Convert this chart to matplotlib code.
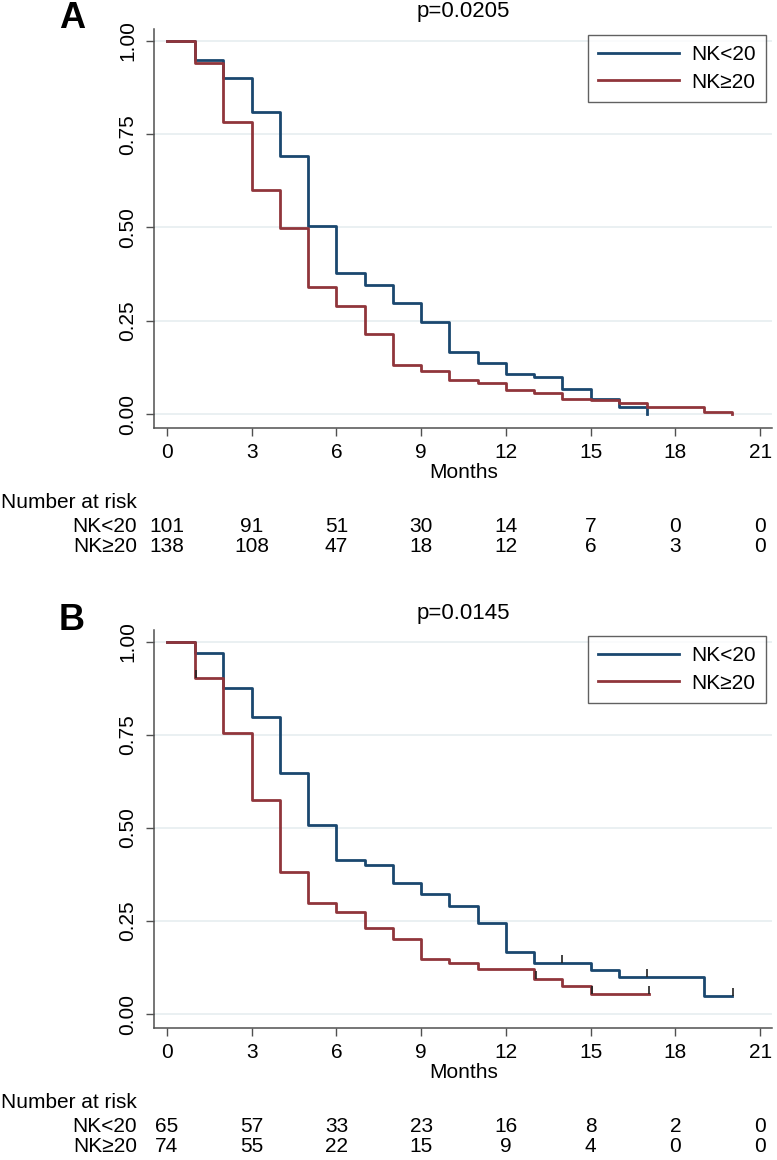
import matplotlib
matplotlib.use("Agg")
from matplotlib import pyplot as plt
from matplotlib import transforms

plt.rcParams['font.family'] = ['Liberation Sans', 'DejaVu Sans']

# colours (stata s2color navy / maroon)
blue = '#1a476f'
red = '#90353b'
grid_col = '#e6eef0'
axis_col = '#505050'

labels = ['NK<20', 'NK\u226520']
risk_times = [0, 3, 6, 9, 12, 15, 18, 21]

# panel A
a_months_lo = [0, 1, 2, 3, 4, 5, 6, 7, 8, 9, 10, 11, 12, 13, 14, 15, 16, 17]
a_surv_lo = [1.0, 0.949, 0.901, 0.810, 0.692, 0.504, 0.378, 0.346, 0.297, 0.247,
             0.166, 0.137, 0.107, 0.099, 0.067, 0.040, 0.019, 0.0]
a_months_hi = [0, 1, 2, 3, 4, 5, 6, 7, 8, 9, 10, 11, 12, 13, 14, 15, 16, 17, 19, 20]
a_surv_hi = [1.0, 0.941, 0.782, 0.600, 0.499, 0.340, 0.290, 0.214, 0.131, 0.115,
             0.091, 0.083, 0.064, 0.056, 0.041, 0.037, 0.029, 0.020, 0.005, 0.0]
a_risk_lo = [101, 91, 51, 30, 14, 7, 0, 0]
a_risk_hi = [138, 108, 47, 18, 12, 6, 3, 0]
a_p = 'p=0.0205'
a_cens_lo = []
a_cens_hi = []

# panel B
b_months_lo = [0, 1, 2, 3, 4, 5, 6, 7, 8, 9, 10, 11, 12, 13, 15, 16, 19, 20]
b_surv_lo = [1.0, 0.970, 0.876, 0.798, 0.648, 0.508, 0.414, 0.401, 0.352, 0.323,
             0.290, 0.245, 0.167, 0.137, 0.118, 0.099, 0.048, 0.048]
b_months_hi = [0, 1, 2, 3, 4, 5, 6, 7, 8, 9, 10, 11, 13, 14, 15, 17.06]
b_surv_hi = [1.0, 0.903, 0.755, 0.575, 0.382, 0.298, 0.274, 0.231, 0.202, 0.148,
             0.137, 0.121, 0.094, 0.075, 0.054, 0.054]
b_risk_lo = [65, 57, 33, 23, 16, 8, 2, 0]
b_risk_hi = [74, 55, 22, 15, 9, 4, 0, 0]
b_p = 'p=0.0145'
b_cens_lo = [(14.0, 0.137), (16.98, 0.099), (20.03, 0.048)]
b_cens_hi = [(1.03, 0.903), (13.05, 0.094), (15.03, 0.054), (17.06, 0.054)]

W, H = 777, 1160
fig = plt.figure(figsize=(W / 100, H / 100), dpi=100)
fs = 15


def fy(py):
    # pixel row -> figure fraction
    return 1 - py / H


def draw_panel(top_px, bottom_px, letter, ptext, t_lo, s_lo, t_hi, s_hi,
               cens_lo, cens_hi, risk_lo, risk_hi):
    left_px, right_px = 154, 772
    ax = fig.add_axes([left_px / W, fy(bottom_px), (right_px - left_px) / W,
                       (bottom_px - top_px) / H])
    for y in [0, 0.25, 0.5, 0.75, 1.0]:
        ax.axhline(y, color=grid_col, lw=1.2, zorder=0)
    ax.step(t_lo, s_lo, where='post', color=blue, lw=2.0, label=labels[0], zorder=3)
    ax.step(t_hi, s_hi, where='post', color=red, lw=2.0, label=labels[1], zorder=3)
    for c in cens_lo + cens_hi:
        ax.plot(c[0], c[1], marker=2, ms=6, mew=1.2, color='#222222', zorder=4)
    ax.set_xlim(-0.46, 21.42)
    ax.set_ylim(-0.0375, 1.032)
    ax.set_xticks(risk_times)
    ax.set_yticks([0, 0.25, 0.5, 0.75, 1.0])
    ax.set_yticklabels(['0.00', '0.25', '0.50', '0.75', '1.00'], rotation=90,
                       va='center', fontsize=fs)
    ax.tick_params(axis='x', labelsize=fs, length=6, width=1, color=axis_col, pad=5)
    ax.tick_params(axis='y', length=6, width=1, color=axis_col, pad=6)
    for s in ['top', 'right']:
        ax.spines[s].set_visible(False)
    for s in ['left', 'bottom']:
        ax.spines[s].set_color(axis_col)
        ax.spines[s].set_linewidth(1.1)
    leg = ax.legend(loc='upper right', bbox_to_anchor=(0.99, 0.985), fontsize=fs,
                    frameon=True, fancybox=False, handlelength=3.9,
                    handletextpad=0.55, labelspacing=0.4, borderpad=0.5,
                    borderaxespad=0)
    leg.get_frame().set_edgecolor('#3a3a3a')
    leg.get_frame().set_linewidth(1.0)
    for h in leg.get_lines():
        h.set_linewidth(2.0)

    # p-value and panel letter
    ax.text(0.5, 1 + 17 / (bottom_px - top_px), ptext, transform=ax.transAxes,
            ha='center', va='center', fontsize=16)
    fig.text(72 / W, fy(top_px - 10), letter, ha='center', va='center',
             fontsize=26, fontweight='bold')

    # x label and number at risk table
    tr = transforms.blended_transform_factory(ax.transData, fig.transFigure)
    ax.text(10.5, fy(bottom_px + 45), 'Months', transform=tr, ha='center',
            va='center', fontsize=fs)
    fig.text(1 / W, fy(bottom_px + 74), 'Number at risk', ha='left', va='center',
             fontsize=fs)
    for row, (lab, vals) in enumerate([(labels[0], risk_lo), (labels[1], risk_hi)]):
        y = fy(bottom_px + 98 + row * 21)
        fig.text(137 / W, y, lab, ha='right', va='center', fontsize=fs)
        for t, v in zip(risk_times, vals):
            ax.text(t, y, str(v), transform=tr, ha='center', va='center', fontsize=fs)
    return ax


draw_panel(29, 428, 'A', a_p, a_months_lo, a_surv_lo, a_months_hi, a_surv_hi,
           a_cens_lo, a_cens_hi, a_risk_lo, a_risk_hi)
draw_panel(630, 1028, 'B', b_p, b_months_lo, b_surv_lo, b_months_hi, b_surv_hi,
           b_cens_lo, b_cens_hi, b_risk_lo, b_risk_hi)

fig.savefig('out.png', dpi=100, facecolor='white')
